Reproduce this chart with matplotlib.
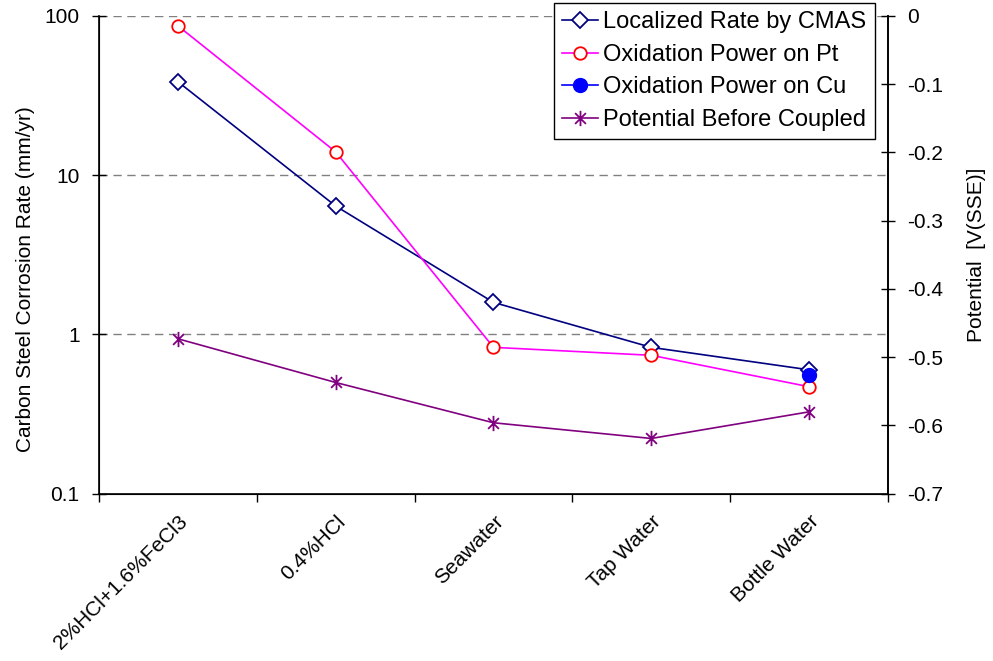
import matplotlib
matplotlib.use("Agg")
import matplotlib.pyplot as plt
import numpy as np
from matplotlib.path import Path
from matplotlib.ticker import FixedLocator, FixedFormatter, NullLocator

plt.rcParams['font.family'] = ['Liberation Sans', 'DejaVu Sans']
plt.rcParams['axes.unicode_minus'] = False

categories = ["2%HCl+1.6%FeCl3", "0.4%HCl", "Seawater", "Tap Water", "Bottle Water"]
localized_rate = [38.6, 6.4, 1.59, 0.83, 0.60]
oxidation_pt = [86.6, 14.0, 0.83, 0.74, 0.47]
oxidation_cu = [np.nan, np.nan, np.nan, np.nan, 0.56]
potential = [-0.473, -0.537, -0.596, -0.619, -0.580]

left_ticks = [0.1, 1, 10, 100]
left_tick_labels = ["0.1", "1", "10", "100"]
right_ticks = [0, -0.1, -0.2, -0.3, -0.4, -0.5, -0.6, -0.7]
right_tick_labels = ["0", "-0.1", "-0.2", "-0.3", "-0.4", "-0.5", "-0.6", "-0.7"]

# asterisk-like star marker (vertical + two diagonals)
d = 0.7071
star = Path([(0, -1), (0, 1), (-d, -d), (d, d), (-d, d), (d, -d)],
            [Path.MOVETO, Path.LINETO, Path.MOVETO, Path.LINETO, Path.MOVETO, Path.LINETO])

fig = plt.figure(figsize=(9.93, 6.61), dpi=100)
ax = fig.add_axes([0.0997, 0.253, 0.7945, 0.723])
x = np.arange(len(categories))

l1, = ax.plot(x, localized_rate, color='#000080', lw=1.2, marker='D', ms=8,
              mfc='white', mec='#000080', mew=1.3, label='Localized Rate by CMAS', zorder=3)
l2, = ax.plot(x, oxidation_pt, color='#FF00FF', lw=1.2, marker='o', ms=9,
              mfc='white', mec='#FF0000', mew=1.3, label='Oxidation Power on Pt', zorder=3)
l3, = ax.plot(x, oxidation_cu, color='#0000FF', lw=1.2, marker='o', ms=10,
              mfc='#0000FF', mec='#0000FF', label='Oxidation Power on Cu', zorder=4)

ax.set_yscale('log')
ax.set_ylim(0.1, 100)
ax.set_xlim(-0.5, len(categories) - 0.5)
ax.yaxis.set_major_locator(FixedLocator(left_ticks))
ax.yaxis.set_major_formatter(FixedFormatter(left_tick_labels))
ax.yaxis.set_minor_locator(NullLocator())
for v in [1, 10, 100]:
    ax.axhline(v, color='#808080', lw=1.0, ls=(0, (6, 4)), zorder=1)

ax.set_xticks(np.arange(len(categories) + 1) - 0.5)
ax.set_xticklabels([])
ax.set_xticks(x, minor=True)
ax.set_xticklabels(categories, minor=True, rotation=45, ha='right', va='top',
                   rotation_mode='anchor', fontsize=15)
ax.tick_params(axis='x', which='minor', length=0, pad=13)
ax.tick_params(axis='x', which='major', length=6, direction='out', width=1)
ax.tick_params(axis='y', which='major', length=10, direction='inout', labelsize=15,
               width=1, pad=9)
ax.set_ylabel('Carbon Steel Corrosion Rate (mm/yr)', fontsize=15, labelpad=7)
ax.yaxis.label.set_y(0.45)

ax.spines['top'].set_visible(False)
for s in ['left', 'bottom', 'right']:
    ax.spines[s].set_linewidth(1.2)

ax2 = ax.twinx()
l4, = ax2.plot(x, potential, color='#800080', lw=1.2, marker=star, ms=11,
               mec='#800080', mew=1.3, label='Potential Before Coupled', zorder=3)
ax2.set_ylim(-0.7, 0)
ax2.yaxis.set_major_locator(FixedLocator(right_ticks))
ax2.yaxis.set_major_formatter(FixedFormatter(right_tick_labels))
ax2.tick_params(axis='y', length=10, direction='inout', labelsize=15, width=1, pad=9)
ax2.set_ylabel('Potential  [V(SSE)]', fontsize=15, labelpad=17)
ax2.spines['top'].set_visible(False)
ax2.spines['right'].set_linewidth(1.2)

leg = fig.legend(handles=[l1, l2, l3, l4], loc='upper right',
                 bbox_to_anchor=(0.881, 0.9955), fontsize=17, frameon=True,
                 fancybox=False, edgecolor='black', framealpha=1,
                 handlelength=1.5, handletextpad=0.25, borderpad=0.35,
                 labelspacing=0.45, borderaxespad=0)
leg.get_frame().set_linewidth(1.0)

fig.savefig('out.png', dpi=100)
